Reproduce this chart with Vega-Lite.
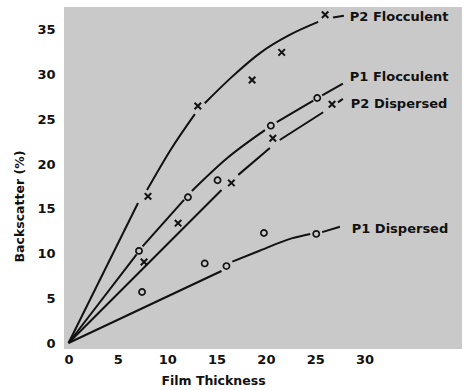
{
  "$schema": "https://vega.github.io/schema/vega-lite/v6.json",
  "width": 398,
  "height": 342,
  "autosize": {"type": "none"},
  "padding": {"left": 64, "top": 7, "right": 2, "bottom": 41},
  "background": "white",
  "config": {
    "view": {"fill": "#c9c9c9", "stroke": null},
    "font": "DejaVu Sans"
  },
  "datasets": {
    "lines": [
      {"series": "P2 Flocculent", "seg": "P2F-a", "x": 0, "y": 0},
      {"series": "P2 Flocculent", "seg": "P2F-a", "x": 7.04, "y": 15.65},
      {"series": "P2 Flocculent", "seg": "P2F-b", "x": 7.95, "y": 17.1},
      {"series": "P2 Flocculent", "seg": "P2F-b", "x": 10.4, "y": 21.7},
      {"series": "P2 Flocculent", "seg": "P2F-b", "x": 12.8, "y": 25.6},
      {"series": "P2 Flocculent", "seg": "P2F-c", "x": 13.8, "y": 26.8},
      {"series": "P2 Flocculent", "seg": "P2F-c", "x": 16.5, "y": 29.7},
      {"series": "P2 Flocculent", "seg": "P2F-c", "x": 19.5, "y": 32.5},
      {"series": "P2 Flocculent", "seg": "P2F-c", "x": 22.5, "y": 34.5},
      {"series": "P2 Flocculent", "seg": "P2F-c", "x": 25.3, "y": 35.9},
      {"series": "P2 Flocculent", "seg": "P2F-d", "x": 26.8, "y": 36.4},
      {"series": "P2 Flocculent", "seg": "P2F-d", "x": 27.9, "y": 36.6},
      {"series": "P1 Flocculent", "seg": "P1F-a", "x": 0, "y": 0},
      {"series": "P1 Flocculent", "seg": "P1F-a", "x": 6.9, "y": 9.9},
      {"series": "P1 Flocculent", "seg": "P1F-b", "x": 7.5, "y": 10.8},
      {"series": "P1 Flocculent", "seg": "P1F-b", "x": 11.7, "y": 16.0},
      {"series": "P1 Flocculent", "seg": "P1F-c", "x": 12.5, "y": 17.0},
      {"series": "P1 Flocculent", "seg": "P1F-c", "x": 16.0, "y": 20.6},
      {"series": "P1 Flocculent", "seg": "P1F-c", "x": 19.9, "y": 23.8},
      {"series": "P1 Flocculent", "seg": "P1F-d", "x": 21.1, "y": 24.7},
      {"series": "P1 Flocculent", "seg": "P1F-d", "x": 24.8, "y": 27.1},
      {"series": "P1 Flocculent", "seg": "P1F-e", "x": 25.7, "y": 27.7},
      {"series": "P1 Flocculent", "seg": "P1F-e", "x": 27.8, "y": 29.0},
      {"series": "P2 Dispersed", "seg": "P2D-a", "x": 0, "y": 0},
      {"series": "P2 Dispersed", "seg": "P2D-a", "x": 15.5, "y": 17.1},
      {"series": "P2 Dispersed", "seg": "P2D-b", "x": 17.2, "y": 18.8},
      {"series": "P2 Dispersed", "seg": "P2D-b", "x": 20.4, "y": 21.8},
      {"series": "P2 Dispersed", "seg": "P2D-c", "x": 21.4, "y": 22.7},
      {"series": "P2 Dispersed", "seg": "P2D-c", "x": 25.8, "y": 25.8},
      {"series": "P2 Dispersed", "seg": "P2D-d", "x": 27.3, "y": 26.9},
      {"series": "P2 Dispersed", "seg": "P2D-d", "x": 27.8, "y": 27.3},
      {"series": "P1 Dispersed", "seg": "P1D-a", "x": 0, "y": 0},
      {"series": "P1 Dispersed", "seg": "P1D-a", "x": 15.5, "y": 8.05},
      {"series": "P1 Dispersed", "seg": "P1D-b", "x": 16.6, "y": 9.1},
      {"series": "P1 Dispersed", "seg": "P1D-b", "x": 19.1, "y": 10.2},
      {"series": "P1 Dispersed", "seg": "P1D-b", "x": 22.6, "y": 11.7},
      {"series": "P1 Dispersed", "seg": "P1D-b", "x": 24.5, "y": 12.2},
      {"series": "P1 Dispersed", "seg": "P1D-c", "x": 25.7, "y": 12.4},
      {"series": "P1 Dispersed", "seg": "P1D-c", "x": 27.5, "y": 13.0}
    ],
    "points": [
      {"series": "P2 Flocculent", "m": "x", "x": 8.05, "y": 16.4},
      {"series": "P2 Flocculent", "m": "x", "x": 13.1, "y": 26.5},
      {"series": "P2 Flocculent", "m": "x", "x": 18.6, "y": 29.4},
      {"series": "P2 Flocculent", "m": "x", "x": 21.6, "y": 32.5},
      {"series": "P2 Flocculent", "m": "x", "x": 26.0, "y": 36.7},
      {"series": "P2 Dispersed", "m": "x", "x": 7.65, "y": 9.06},
      {"series": "P2 Dispersed", "m": "x", "x": 11.1, "y": 13.4},
      {"series": "P2 Dispersed", "m": "x", "x": 16.5, "y": 17.9},
      {"series": "P2 Dispersed", "m": "x", "x": 20.7, "y": 22.9},
      {"series": "P2 Dispersed", "m": "x", "x": 26.7, "y": 26.7},
      {"series": "P1 Flocculent", "m": "o", "x": 7.14, "y": 10.3},
      {"series": "P1 Flocculent", "m": "o", "x": 12.1, "y": 16.3},
      {"series": "P1 Flocculent", "m": "o", "x": 15.1, "y": 18.2},
      {"series": "P1 Flocculent", "m": "o", "x": 20.5, "y": 24.3},
      {"series": "P1 Flocculent", "m": "o", "x": 25.2, "y": 27.4},
      {"series": "P1 Dispersed", "m": "o", "x": 7.45, "y": 5.7},
      {"series": "P1 Dispersed", "m": "o", "x": 13.8, "y": 8.9},
      {"series": "P1 Dispersed", "m": "o", "x": 16.0, "y": 8.6},
      {"series": "P1 Dispersed", "m": "o", "x": 19.8, "y": 12.3},
      {"series": "P1 Dispersed", "m": "o", "x": 25.1, "y": 12.2}
    ],
    "labels": [
      {"label": "P2 Flocculent", "x": 28.5, "y": 36.5},
      {"label": "P1 Flocculent", "x": 28.5, "y": 29.7},
      {"label": "P2 Dispersed", "x": 28.6, "y": 26.7},
      {"label": "P1 Dispersed", "x": 28.7, "y": 12.75}
    ]
  },
  "encoding": {
    "x": {
      "type": "quantitative",
      "scale": {"domain": [-0.46, 39.87], "nice": false, "zero": false},
      "axis": {
        "values": [0, 5, 10, 15, 20, 25, 30],
        "domain": false, "ticks": false, "tickSize": 0, "grid": false,
        "labelFont": "DejaVu Sans", "labelFontWeight": "bold", "labelFontSize": 13, "labelColor": "#111",
        "labelPadding": 4,
        "title": "Film Thickness",
        "titleFont": "DejaVu Sans", "titleFontWeight": "bold", "titleFontSize": 12.5, "titleColor": "#111",
        "titleX": 149, "titleY": 25, "titleBaseline": "top", "titleAlign": "center"
      }
    },
    "y": {
      "type": "quantitative",
      "scale": {"domain": [-0.67, 37.57], "nice": false, "zero": false},
      "axis": {
        "values": [0, 5, 10, 15, 20, 25, 30, 35],
        "domain": false, "ticks": false, "tickSize": 0, "grid": false,
        "labelFont": "DejaVu Sans", "labelFontWeight": "bold", "labelFontSize": 13, "labelColor": "#111",
        "labelPadding": 9,
        "title": "Backscatter (%)",
        "titleFont": "DejaVu Sans", "titleFontWeight": "bold", "titleFontSize": 12.5, "titleColor": "#111",
        "titlePadding": 10, "titleY": 199
      }
    }
  },
  "layer": [
    {
      "mark": {"type": "rule", "color": "#111", "strokeWidth": 6, "yOffset": 3},
      "encoding": {"x": {"datum": -0.45}, "x2": {"datum": 35}, "y": {"datum": 0}}
    },
    {
      "mark": {"type": "rule", "color": "#111", "strokeWidth": 4, "xOffset": -2},
      "encoding": {"x": {"datum": 0}, "y": {"datum": 0}, "y2": {"datum": 34.5}}
    },
    {
      "data": {"name": "lines"},
      "mark": {"type": "line", "color": "#111", "strokeWidth": 2, "interpolate": "monotone"},
      "encoding": {
        "x": {"field": "x"},
        "y": {"field": "y"},
        "detail": {"field": "seg", "type": "nominal"}
      }
    },
    {
      "data": {"name": "points"},
      "transform": [{"filter": "datum.m === 'o'"}],
      "mark": {"type": "point", "shape": "circle", "filled": false, "stroke": "#111", "strokeWidth": 1.7, "size": 38, "opacity": 1},
      "encoding": {"x": {"field": "x"}, "y": {"field": "y"}}
    },
    {
      "data": {"name": "points"},
      "transform": [{"filter": "datum.m === 'x'"}],
      "mark": {"type": "point", "shape": "M-1,-1L1,1M-1,1L1,-1", "filled": false, "stroke": "#111", "strokeWidth": 2, "size": 42, "opacity": 1},
      "encoding": {"x": {"field": "x"}, "y": {"field": "y"}}
    },
    {
      "data": {"name": "labels"},
      "mark": {"type": "text", "align": "left", "baseline": "middle", "font": "DejaVu Sans", "fontWeight": "bold", "fontSize": 13, "color": "#111"},
      "encoding": {"x": {"field": "x"}, "y": {"field": "y"}, "text": {"field": "label"}}
    }
  ]
}
